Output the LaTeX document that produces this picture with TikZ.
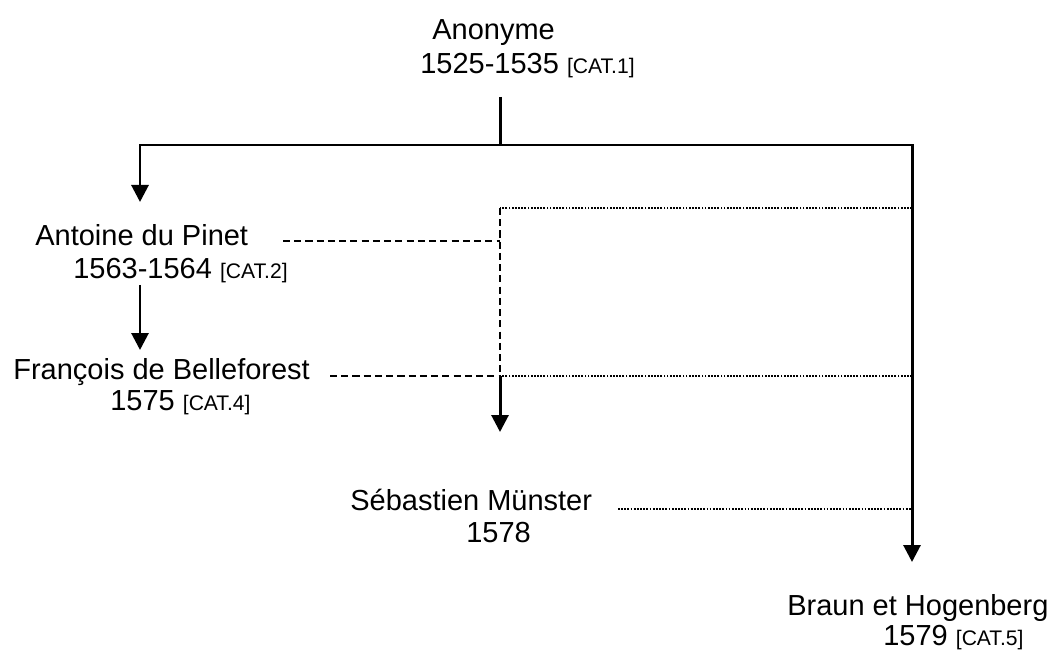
\documentclass[tikz,border=0pt]{standalone}
\usepackage{fontspec}
\setmainfont{Liberation Sans}
\usetikzlibrary{arrows.meta}
\newcommand{\cattag}[1]{{\fontsize{12}{14}\selectfont[#1]}}

\begin{document}
\begin{tikzpicture}[x=0.02cm,y=-0.02cm,
  auteur/.style={anchor=base west,inner sep=0pt,font=\fontsize{16.5}{19}\selectfont},
  filiation/.style={line width=1.7pt,-{Triangle[length=0.34cm,width=0.34cm]}},
  trait/.style={line width=1.7pt},
  emprunt/.style={line width=1.6pt,dash pattern=on 4pt off 2.4pt},
  citation/.style={line width=1.1pt,dash pattern=on 1pt off 0.8pt}]

\useasboundingbox (0,0) rectangle (1051,651);

\node[auteur] (anon) at (432,40) {Anonyme};
\node[auteur] (anonY) at (420,74) {1525-1535 \cattag{CAT.1}};
\node[auteur] (pinet) at (35,246) {Antoine du Pinet};
\node[auteur] (pinetY) at (73,279) {1563-1564 \cattag{CAT.2}};
\node[auteur] (belle) at (13,380) {François de Belleforest};
\node[auteur] (belleY) at (110,411) {1575 \cattag{CAT.4}};
\node[auteur] (munster) at (350,510) {Sébastien Münster};
\node[auteur] (munsterY) at (466,542) {1578};
\node[auteur] (braun) at (787,615) {Braun et Hogenberg};
\node[auteur] (braunY) at (883,645) {1579 \cattag{CAT.5}};

\coordinate (a0) at (500,97);
\coordinate (a1) at (500,145);
\coordinate (a2) at (140,145);
\coordinate (a3) at (912,145);
\coordinate (p0) at (140,202);
\coordinate (p1) at (140,285);
\coordinate (b0) at (140,350);
\coordinate (m0) at (500,208);
\coordinate (m1) at (500,241);
\coordinate (m2) at (500,376);
\coordinate (m3) at (500,432);
\coordinate (h0) at (912,208);
\coordinate (h1) at (912,376);
\coordinate (h2) at (912,509);
\coordinate (h3) at (912,562);
\coordinate (d0) at (283,241);
\coordinate (d1) at (330,376);
\coordinate (d2) at (618,509);

\draw[trait] (a0)--(a1);
\draw[filiation] (a1)--(a2)--(p0);
\draw[filiation] (a1)--(a3)--(h3);
\draw[filiation] (p1)--(b0);
\draw[emprunt] (d0)--(m1) (d1)--(m2) (m0)--(m2);
\draw[filiation] (m2)--(m3);
\draw[citation] (h0)--(m0) (h1)--(m2) (d2)--(h2);
\end{tikzpicture}
\end{document}
